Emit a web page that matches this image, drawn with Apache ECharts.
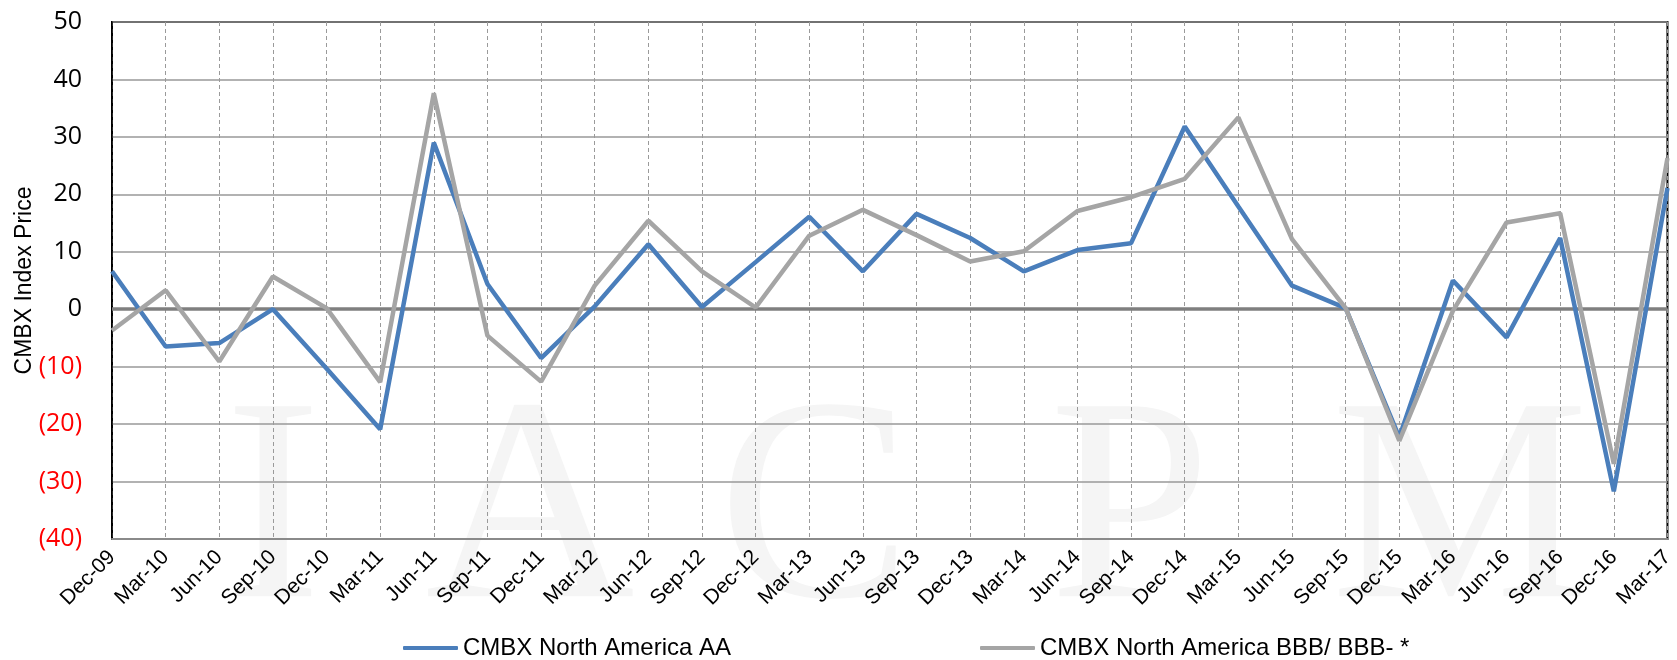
<!DOCTYPE html>
<html>
<head>
<meta charset="utf-8">
<script src="https://cdn.jsdelivr.net/npm/echarts@6/dist/echarts.min.js"></script>
<style>
html,body{margin:0;padding:0;background:#fff;}
#chart{width:1677px;height:660px;}
</style>
</head>
<body>
<div id="chart"></div>
<script>
const categories = ['Dec-09','Mar-10','Jun-10','Sep-10','Dec-10','Mar-11','Jun-11','Sep-11','Dec-11','Mar-12',
  'Jun-12','Sep-12','Dec-12','Mar-13','Jun-13','Sep-13','Dec-13','Mar-14','Jun-14','Sep-14',
  'Dec-14','Mar-15','Jun-15','Sep-15','Dec-15','Mar-16','Jun-16','Sep-16','Dec-16','Mar-17'];
const seriesNames = ['CMBX North America AA', 'CMBX North America BBB/ BBB- *'];
const aaValues = [6.6, -6.5, -5.9, 0.0, -10.3, -20.9, 29.0, 4.4, -8.5, 0.5,
  11.3, 0.4, 8.2, 16.1, 6.6, 16.6, 12.4, 6.6, 10.3, 11.5,
  31.8, 17.9, 4.1, 0.2, -22.3, 5.0, -4.9, 12.4, -31.7, 21.1];
const bbbValues = [-3.7, 3.3, -9.1, 5.7, 0.2, -12.7, 37.6, -4.6, -12.6, 4.1,
  15.4, 6.6, 0.3, 12.8, 17.3, 12.9, 8.3, 10.1, 17.1, 19.5,
  22.7, 33.4, 12.2, 0.2, -22.9, -0.3, 15.1, 16.7, -26.9, 26.3];
const yMin = -40, yMax = 50, yInterval = 10;
const yAxisTitle = 'CMBX Index Price';
const watermarkLetters = ['I', 'A', 'C', 'P', 'M'];

const chart = echarts.init(document.getElementById('chart'), null, {renderer: 'canvas'});

const wmX = [273, 530, 815, 1130, 1460];
const graphicEls = watermarkLetters.map((ch, i) => ({
  type: 'text',
  x: wmX[i],
  y: 520,
  z: -10,
  silent: true,
  style: {
    text: ch,
    font: '290px "Liberation Serif"',
    fill: '#f5f5f5',
    textAlign: 'center',
    textVerticalAlign: 'middle'
  }
}));

const labelFont = 'Liberation Sans';

chart.setOption({
  animation: false,
  backgroundColor: '#fff',
  graphic: graphicEls,
  grid: {
    left: 112, right: 3, top: 22, bottom: 121,
    show: true, borderColor: '#000', borderWidth: 2, backgroundColor: 'transparent'
  },
  legend: [
    {
      data: [seriesNames[0]], left: 398, top: 631,
      icon: 'roundRect', itemWidth: 55, itemHeight: 4,
      textStyle: {fontSize: 24, fontFamily: labelFont, color: '#000'}
    },
    {
      data: [seriesNames[1]], left: 975, top: 631,
      icon: 'roundRect', itemWidth: 55, itemHeight: 4,
      textStyle: {fontSize: 24, fontFamily: labelFont, color: '#000'}
    }
  ],
  xAxis: {
    type: 'category',
    data: categories,
    boundaryGap: false,
    axisLine: {onZero: false, lineStyle: {color: '#8a8a8a', width: 2}},
    axisTick: {show: false},
    splitLine: {show: true, lineStyle: {color: '#9a9a9a', width: 1, type: [4, 3]}},
    axisLabel: {
      interval: 0, rotate: 45, margin: 15,
      fontSize: 21, fontFamily: labelFont, color: '#000'
    }
  },
  yAxis: {
    type: 'value',
    min: yMin, max: yMax, interval: yInterval,
    name: yAxisTitle,
    nameLocation: 'middle',
    nameRotate: 90,
    nameGap: 76,
    nameMoveOverlap: false,
    nameTextStyle: {fontSize: 23, fontFamily: labelFont, color: '#000'},
    axisLine: {show: true, lineStyle: {color: '#000', width: 1.5}},
    axisTick: {show: false},
    splitLine: {show: true, lineStyle: {color: '#999', width: 1.5}},
    axisLabel: {
      margin: 30,
      fontSize: 25,
      fontFamily: 'Open Sans',
      formatter: v => v < 0 ? '(' + Math.abs(v) + ')' : String(v),
      color: v => (Number(v) < 0 ? '#ff0000' : '#000')
    }
  },
  series: [
    {
      name: seriesNames[0],
      type: 'line',
      data: aaValues,
      symbol: 'none',
      z: 3,
      color: '#4a7ebb',
      lineStyle: {color: '#4a7ebb', width: 4.5},
      markLine: {
        z: 1,
        silent: true,
        symbol: ['none', 'none'],
        label: {show: false},
        lineStyle: {color: '#7f7f7f', width: 3.5, type: 'solid'},
        emphasis: {disabled: true},
        data: [{yAxis: 0}]
      }
    },
    {
      name: seriesNames[1],
      type: 'line',
      data: bbbValues,
      symbol: 'none',
      z: 4,
      color: '#a5a5a5',
      lineStyle: {color: '#a5a5a5', width: 4.5}
    }
  ]
});
</script>
</body>
</html>
